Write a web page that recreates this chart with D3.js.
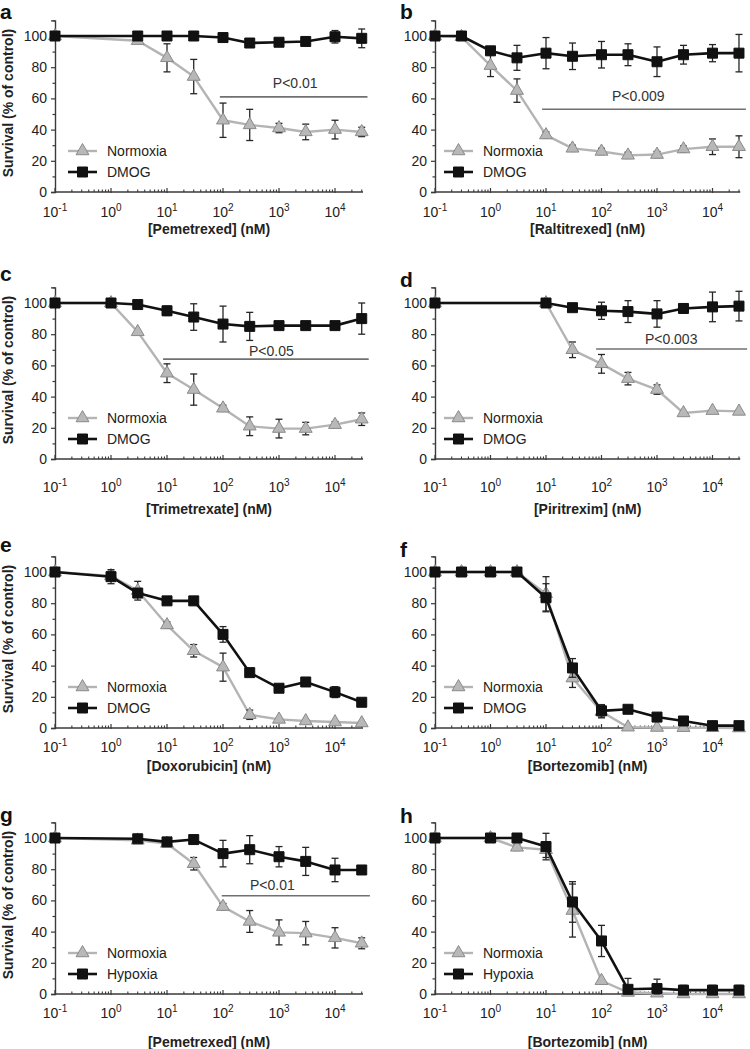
<!DOCTYPE html>
<html><head><meta charset="utf-8">
<script src="https://cdn.jsdelivr.net/npm/d3@7/dist/d3.min.js"></script>
<style>body{margin:0;background:#fff}svg{display:block}</style>
</head><body>
<svg id="chart" width="750" height="1049"></svg>
<script>
// ---------- data ----------
const panelLetters = ['a','b','c','d','e','f','g','h'];
const drugLabels = ['[Pemetrexed] (nM)','[Raltitrexed] (nM)','[Trimetrexate] (nM)','[Piritrexim] (nM)',
                    '[Doxorubicin] (nM)','[Bortezomib] (nM)','[Pemetrexed] (nM)','[Bortezomib] (nM)'];
const controlName = 'Normoxia';
const treatNames = ['DMOG','DMOG','DMOG','DMOG','DMOG','DMOG','Hypoxia','Hypoxia'];
const yTicks = [0,20,40,60,80,100];
const yMinorTicks = [10,30,50,70,90,110];
const xDecades = [-1,0,1,2,3,4];

// a
const concA = [0.1,3,10,30,100,300,1000,3000,10000,30000];
const normA = [100,97,86,74,46,43,41,38.5,40,38.5];
const normErrA = [0,0,9,11,11,10,3,5,6,3];
const dmogA = [100,100,100,100,99,95.5,96,96.5,99.5,98.5];
const dmogErrA = [0,0,0,0,0,0,1.5,2,4,6];
// b
const concB = [0.1,0.3,1,3,10,30,100,300,1000,3000,10000,30000];
const normB = [100,99.5,81,65,36.5,28,26,23.5,24,27.5,29,29];
const normErrB = [0,0,7,7.5,2,2,2,2,2,2,5,7];
const dmogB = [100,100,90.5,86,89,87,88,88,83.5,88,89,89];
const dmogErrB = [0,0,2,8,10,8.5,8.5,7,9.5,6,5.5,12];
// c
const concC = [0.1,1,3,10,30,100,300,1000,3000,10000,30000];
const normC = [100,100,81.5,55,44.5,32.5,21,19.5,19.5,22,25.5];
const normErrC = [0,0,0,6,10,2,6,6,4,2,4];
const dmogC = [100,100,99,95,91,86.5,85,85.5,85.5,85.5,90];
const dmogErrC = [0,0,0,3,8.5,11.5,9,0,0,0,10];
// d
const concD = [0.1,10,30,100,300,1000,3000,10000,30000];
const normD = [100,100,70,61,51.5,44.5,29.5,31,30.5];
const normErrD = [0,0,5,6,4,3,0,0,0];
const dmogD = [100,100,97,95,94.5,93,96.5,97.5,98];
const dmogErrD = [0,2,2,5.5,7,8.5,3,9.5,9.5];
// e
const concE = [0.1,1,3,10,30,100,300,1000,3000,10000,30000];
const normE = [100,97.5,88,66,49.5,39,8.5,5.5,4.5,3.8,3.2];
const normErrE = [0,3,6,2,4,9,3,0,0,0,0];
const dmogE = [100,97,86.5,81.5,81.5,60,35.5,25.5,29.5,23,16.5];
const dmogErrE = [0,4.5,2,0,0,5,0,0,0,3.5,0];
// f
const concF = [0.1,0.3,1,3,10,30,100,300,1000,3000,10000,30000];
const normF = [100,100,100,100,86,32,10.5,0.5,0.3,0.2,0.2,0];
const normErrF = [0,0,0,0,11,6,4,0,0,0,0,0];
const dmogF = [100,100,100,100,83.5,38.5,11,12,7,4.5,1.5,1.5];
const dmogErrF = [0,0,0,0,9,6,4,0,0,0,0,0];
// g
const concG = [0.1,3,10,30,100,300,1000,3000,10000,30000];
const normG = [100,98.5,96.5,83.5,56,46.5,39.5,39,36,32.5];
const normErrG = [0,0,1.5,4,2,7,8,7.5,6.5,3.5];
const hypG = [100,99.5,97.5,99,90,92.5,88,85,79.5,79.5];
const hypErrG = [0,0,2,0,8.5,9,6.5,9,7.5,2];
// h
const concH = [0.1,1,3,10,30,100,300,1000,3000,10000,30000];
const normH = [100,100,94,92.5,53.5,8.5,1,0.5,0,0,0];
const normErrH = [0,0,2,5,17,0,0,0,0,0,0];
const hypH = [100,100,100,94.5,59,34,3,3.5,2.5,2.5,2.5];
const hypErrH = [0,0,0,8.5,13,10,7,6,3,3,3];

// significance annotations (per panel, null = none)
const pLabels = ['P<0.01','P<0.009','P<0.05','P<0.003',null,null,'P<0.01',null];
const pLevels = [61,53,64,70.5,null,null,63,null];
const pTextLevels = [66.5,58.5,66,73.5,null,null,66.5,null];
const pFrom = [88,8.5,8.5,80,null,null,95,null];
const pTo = [38000,40000,40000,42000,null,null,42000,null];
const pTextAt = [1950,460,730,1800,null,null,760,null];

// ---------- build ----------
const concs = [concA,concB,concC,concD,concE,concF,concG,concH];
const norms = [normA,normB,normC,normD,normE,normF,normG,normH];
const normErrs = [normErrA,normErrB,normErrC,normErrD,normErrE,normErrF,normErrG,normErrH];
const treats = [dmogA,dmogB,dmogC,dmogD,dmogE,dmogF,hypG,hypH];
const treatErrs = [dmogErrA,dmogErrB,dmogErrC,dmogErrD,dmogErrE,dmogErrF,hypErrG,hypErrH];

const FONT = "'Liberation Sans', Arial, Helvetica, sans-serif";
const cols = [{axisX:55, decade:56, legOff:13, letterX:0},
              {axisX:435, decade:55.5, legOff:9, letterX:400}];
const rows = [{zeroY:192, tickOff:25, titleOff:42, letterY:[19,19]},
              {zeroY:459, tickOff:33, titleOff:55, letterY:[281,287]},
              {zeroY:728, tickOff:24, titleOff:43, letterY:[552,557]},
              {zeroY:994, tickOff:24, titleOff:53, letterY:[822,823]}];
const PER100 = 156;
const GRAY_LINE = '#b4b4b4', TRI_FILL = '#b8b8b8', TRI_STROKE = '#8a8a8a';
const AXIS_COL = '#3a3a3a', ERR_COL = '#262626';

const svg = d3.select('#chart');
const triPath = d3.symbol().type(d3.symbolTriangle).size(72)();
const sqPath = d3.symbol().type(d3.symbolSquare).size(100)();

panelLetters.forEach((letter, i) => {
  const col = cols[i % 2], row = rows[Math.floor(i / 2)];
  const g = svg.append('g');
  const x = d3.scaleLog().domain([0.1, Math.pow(10, 4.5)])
    .range([col.axisX, col.axisX + 5.5 * col.decade]);
  const y = d3.scaleLinear().domain([0, 110])
    .range([row.zeroY, row.zeroY - 1.1 * PER100]);

  // panel letter
  g.append('text').attr('x', col.letterX).attr('y', row.letterY[i % 2])
    .attr('font-family', FONT).attr('font-weight', 'bold').attr('font-size', 21)
    .attr('fill', '#111').text(letter);

  // y axis
  const yAx = g.append('g').attr('transform', `translate(${col.axisX},0)`)
    .call(d3.axisLeft(y).tickValues(yTicks).tickSize(4).tickPadding(4));
  g.append('g').attr('transform', `translate(${col.axisX},0)`)
    .call(d3.axisLeft(y).tickValues(yMinorTicks).tickSize(2.5).tickFormat(''))
    .call(s => s.select('.domain').remove());
  g.selectAll('.domain').attr('stroke', AXIS_COL).attr('stroke-width', 1.4);
  g.selectAll('.tick line').attr('stroke', AXIS_COL).attr('stroke-width', 1.2);
  yAx.selectAll('.tick text').attr('font-family', FONT).attr('font-size', 14)
    .attr('fill', '#222');

  // x axis (ticks pointing up)
  const [x0, x1] = x.range();
  g.append('line').attr('x1', x0).attr('x2', x1).attr('y1', row.zeroY).attr('y2', row.zeroY)
    .attr('stroke', AXIS_COL).attr('stroke-width', 1.4);
  const minor = [];
  xDecades.forEach(d => { for (let k = 2; k <= 9; k++) { const v = k * Math.pow(10, d); if (v <= x.domain()[1]) minor.push(v); } });
  g.selectAll('.xminor').data(minor).join('line')
    .attr('x1', d => x(d)).attr('x2', d => x(d))
    .attr('y1', row.zeroY).attr('y2', row.zeroY - 2.5)
    .attr('stroke', AXIS_COL).attr('stroke-width', 1.1);
  g.selectAll('.xmajor').data(xDecades.map(d => Math.pow(10, d))).join('line')
    .attr('x1', d => x(d)).attr('x2', d => x(d))
    .attr('y1', row.zeroY + 1).attr('y2', row.zeroY - 4)
    .attr('stroke', AXIS_COL).attr('stroke-width', 1.2);
  const xl = g.selectAll('.xlab').data(xDecades).join('text')
    .attr('x', d => x(Math.pow(10, d))).attr('y', row.zeroY + row.tickOff)
    .attr('text-anchor', 'middle').attr('font-family', FONT).attr('font-size', 14).attr('fill', '#222');
  xl.append('tspan').text('10');
  xl.append('tspan').attr('font-size', 10).attr('dy', -6).text(d => String(d));

  // x title
  g.append('text').attr('x', x(Math.pow(10, 1.75)))
    .attr('y', row.zeroY + row.titleOff).attr('text-anchor', 'middle')
    .attr('font-family', FONT).attr('font-weight', 'bold').attr('font-size', 14)
    .attr('fill', '#222').text(drugLabels[i]);

  // y title (left column only)
  if (i % 2 === 0) {
    const cy = y(57);
    g.append('text').attr('transform', `translate(13,${cy}) rotate(-90)`)
      .attr('text-anchor', 'middle').attr('font-family', FONT).attr('font-weight', 'bold')
      .attr('font-size', 14).attr('fill', '#222').text('Survival (% of control)');
  }

  // significance bar
  if (pLabels[i]) {
    g.append('line').attr('x1', x(pFrom[i])).attr('x2', x(pTo[i]))
      .attr('y1', y(pLevels[i])).attr('y2', y(pLevels[i]))
      .attr('stroke', '#707070').attr('stroke-width', 1.6);
    g.append('text').attr('x', x(pTextAt[i])).attr('y', y(pTextLevels[i]))
      .attr('text-anchor', 'middle').attr('font-family', FONT).attr('font-size', 14)
      .attr('fill', '#333').text(pLabels[i]);
  }

  const conc = concs[i];
  const series = [
    {vals: norms[i], errs: normErrs[i], line: GRAY_LINE, width: 2.4, marker: triPath, fill: TRI_FILL, stroke: TRI_STROKE},
    {vals: treats[i], errs: treatErrs[i], line: '#111', width: 2.6, marker: sqPath, fill: '#111', stroke: '#111'}
  ];
  series.forEach(s => {
    const pts = conc.map((c, j) => ({c, v: s.vals[j], e: s.errs[j]}));
    g.append('path').datum(pts)
      .attr('d', d3.line().x(d => x(d.c)).y(d => y(d.v)))
      .attr('fill', 'none').attr('stroke', s.line).attr('stroke-width', s.width)
      .attr('stroke-linejoin', 'round');
    const eb = g.append('g');
    pts.filter(d => d.e > 0).forEach(d => {
      const cx = x(d.c), yt = y(d.v + d.e), yb = y(Math.max(0, d.v - d.e));
      eb.append('line').attr('x1', cx).attr('x2', cx).attr('y1', yt).attr('y2', yb);
      eb.append('line').attr('x1', cx - 3.5).attr('x2', cx + 3.5).attr('y1', yt).attr('y2', yt);
      eb.append('line').attr('x1', cx - 3.5).attr('x2', cx + 3.5).attr('y1', yb).attr('y2', yb);
    });
    eb.selectAll('line').attr('stroke', ERR_COL).attr('stroke-width', 1.3);
    g.selectAll(null).data(pts).join('path')
      .attr('d', s.marker)
      .attr('transform', d => `translate(${x(d.c)},${y(d.v)})`)
      .attr('fill', s.fill).attr('stroke', s.stroke).attr('stroke-width', 1);
  });

  // legend
  const lx = col.axisX + col.legOff;
  const legendItems = [
    {name: controlName, dy: 41, s: series[0]},
    {name: treatNames[i], dy: 20, s: series[1]}
  ];
  legendItems.forEach(it => {
    const ly = row.zeroY - it.dy;
    g.append('line').attr('x1', lx).attr('x2', lx + 29).attr('y1', ly).attr('y2', ly)
      .attr('stroke', it.s.line).attr('stroke-width', it.s.width);
    g.append('path').attr('d', it.s.marker).attr('transform', `translate(${lx + 14.5},${ly})`)
      .attr('fill', it.s.fill).attr('stroke', it.s.stroke).attr('stroke-width', 1);
    g.append('text').attr('x', lx + 39).attr('y', ly).attr('dy', '0.36em')
      .attr('font-family', FONT).attr('font-size', 14).attr('fill', '#222').text(it.name);
  });
});
</script>
</body></html>
